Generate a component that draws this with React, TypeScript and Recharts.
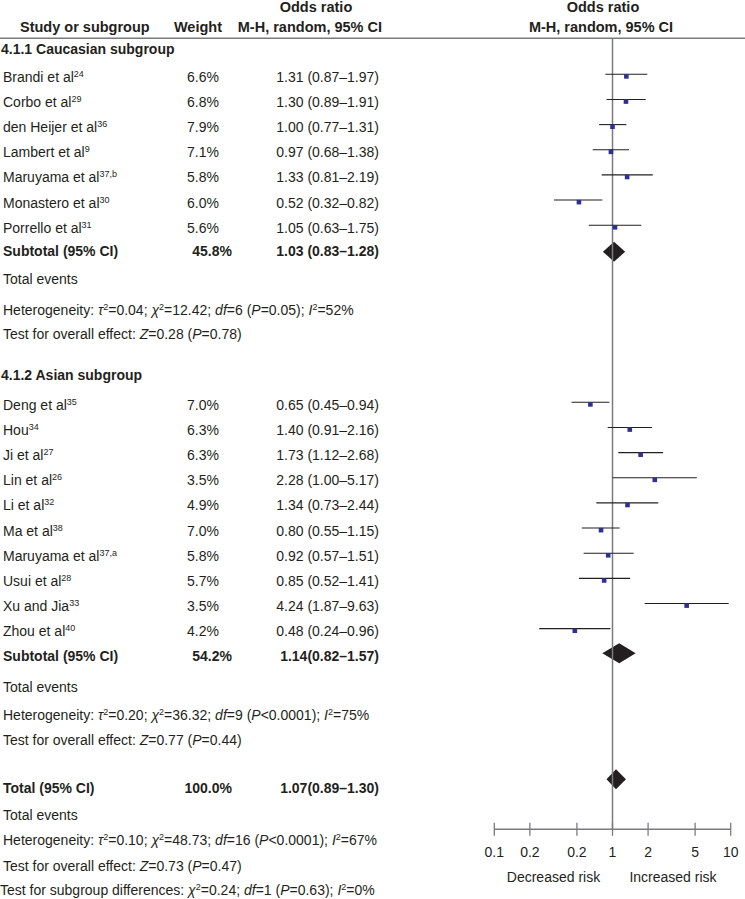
import React from 'react';
import { ComposedChart, XAxis, YAxis, Scatter, ErrorBar, Area, ReferenceLine } from 'recharts';

// --- data ---
const caucasianStudies = ['Brandi et al', 'Corbo et al', 'den Heijer et al', 'Lambert et al', 'Maruyama et al', 'Monastero et al', 'Porrello et al'];
const caucasianRefs = ['24', '29', '36', '9', '37,b', '30', '31'];
const caucasianWeights = [6.6, 6.8, 7.9, 7.1, 5.8, 6.0, 5.6];
const caucasianOR = [1.31, 1.3, 1.0, 0.97, 1.33, 0.52, 1.05];
const caucasianLow = [0.87, 0.89, 0.77, 0.68, 0.81, 0.32, 0.63];
const caucasianHigh = [1.97, 1.91, 1.31, 1.38, 2.19, 0.82, 1.75];

const asianStudies = ['Deng et al', 'Hou', 'Ji et al', 'Lin et al', 'Li et al', 'Ma et al', 'Maruyama et al', 'Usui et al', 'Xu and Jia', 'Zhou et al'];
const asianRefs = ['35', '34', '27', '26', '32', '38', '37,a', '28', '33', '40'];
const asianWeights = [7.0, 6.3, 6.3, 3.5, 4.9, 7.0, 5.8, 5.7, 3.5, 4.2];
const asianOR = [0.65, 1.4, 1.73, 2.28, 1.34, 0.8, 0.92, 0.85, 4.24, 0.48];
const asianLow = [0.45, 0.91, 1.12, 1.0, 0.73, 0.55, 0.57, 0.52, 1.87, 0.24];
const asianHigh = [0.94, 2.16, 2.68, 5.17, 2.44, 1.15, 1.51, 1.41, 9.63, 0.96];

// caucasian subtotal, asian subtotal, overall total
const pooledLabels = ['Subtotal (95% CI)', 'Subtotal (95% CI)', 'Total (95% CI)'];
const pooledWeights = [45.8, 54.2, 100.0];
const pooledOR = [1.03, 1.14, 1.07];
const pooledLow = [0.83, 0.82, 0.89];
const pooledHigh = [1.28, 1.57, 1.3];
const pooledSpaced = [true, false, false];

const hetTau2 = [0.04, 0.2, 0.1];
const hetChi2 = [12.42, 36.32, 48.73];
const hetDf = [6, 9, 16];
const hetP = ['=0.05', '<0.0001', '<0.0001'];
const hetI2 = [52, 75, 67];
const overallZ = [0.28, 0.77, 0.73];
const overallP = [0.78, 0.44, 0.47];
const subgroupDiff = { chi2: 0.24, df: 1, p: 0.63, i2: 0 };

const tickValues = [0.1, 0.2, 0.5, 1, 2, 5, 10];
const tickLabels = ['0.1', '0.2', '0.2', '1', '2', '5', '10'];

// --- layout ---
const W = 745;
const H = 899;
const PLOT_LEFT = 494.3;
const PLOT_RIGHT = 730.7;
const AXIS_Y = 829.3;
const RULE_Y = 38.3;
const ROW_STEP = 25.15;
const CAUC_FIRST = 74.3;
const ASIAN_FIRST = 402.3;
const POOLED_Y = [251.7, 653.3, 779.3];
const DIAMOND_HALF = 10;
const FONT = '"Liberation Sans", Arial, sans-serif';
const INK = '#231f20';
const GREY = '#7a7b7e';

const fmt2 = (v: number) => v.toFixed(2);
const orText = (o: number, l: number, h: number, spaced = true) =>
  `${fmt2(o)}${spaced ? ' ' : ''}(${fmt2(l)}–${fmt2(h)})`;

const studyPoints = [
  ...caucasianOR.map((o, i) => ({ x: o, y: CAUC_FIRST + i * ROW_STEP, err: [o - caucasianLow[i], caucasianHigh[i] - o] })),
  ...asianOR.map((o, i) => ({ x: o, y: ASIAN_FIRST + i * ROW_STEP, err: [o - asianLow[i], asianHigh[i] - o] })),
];

const diamondData = (k: number) => {
  const c = POOLED_Y[k];
  return [
    { x: pooledLow[k], band: [c, c] },
    { x: pooledOR[k], band: [c - DIAMOND_HALF, c + DIAMOND_HALF] },
    { x: pooledHigh[k], band: [c, c] },
  ];
};

const Square = (props: any) => {
  const { cx, cy } = props;
  if (cx == null || cy == null) return null;
  return <rect x={cx - 2.3} y={cy - 0.2} width={4.6} height={4.6} fill="#2e3192" />;
};

const ForestTick = (props: any) => {
  const { x, y, payload } = props;
  const idx = tickValues.indexOf(payload.value);
  return (
    <g>
      <line x1={x} x2={x} y1={AXIS_Y - 6.5} y2={AXIS_Y + 6.5} stroke={GREY} strokeWidth={1.3} />
      <text x={x} y={AXIS_Y + 27.5} textAnchor="middle" fontSize={14} fontFamily={FONT} fill={INK}>
        {tickLabels[idx]}
      </text>
    </g>
  );
};

type Seg = { t: string; i?: boolean; sup?: boolean };

function Rich({ x, y, segs, bold, anchor = 'start', size = 14 }: { x: number; y: number; segs: Seg[]; bold?: boolean; anchor?: string; size?: number }) {
  let up = false;
  const parts = segs.map((s, k) => {
    let dy: number | undefined;
    if (s.sup && !up) { dy = -5; up = true; }
    else if (!s.sup && up) { dy = 5; up = false; }
    return (
      <tspan key={k} dy={dy} fontStyle={s.i ? 'italic' : undefined} fontSize={s.sup ? 9 : undefined}>
        {s.t}
      </tspan>
    );
  });
  return (
    <text x={x} y={y} textAnchor={anchor as any} fontSize={size} fontFamily={FONT} fill={INK} fontWeight={bold ? 'bold' : 'normal'}>
      {parts}
    </text>
  );
}

const T = ({ x, y, children, bold, anchor = 'start', size = 14 }: any) => (
  <text x={x} y={y} textAnchor={anchor} fontSize={size} fontFamily={FONT} fill={INK} fontWeight={bold ? 'bold' : 'normal'}>
    {children}
  </text>
);

const hetSegs = (k: number): Seg[] => [
  { t: 'Heterogeneity: ' }, { t: 'τ', i: true }, { t: '2', sup: true }, { t: `=${fmt2(hetTau2[k])}; ` },
  { t: 'χ', i: true }, { t: '2', sup: true }, { t: `=${fmt2(hetChi2[k])}; ` },
  { t: 'df', i: true }, { t: `=${hetDf[k]} (` }, { t: 'P', i: true }, { t: `${hetP[k]}); ` },
  { t: 'I', i: true }, { t: '2', sup: true }, { t: `=${hetI2[k]}%` },
];

const zSegs = (k: number): Seg[] => [
  { t: 'Test for overall effect: ' }, { t: 'Z', i: true }, { t: `=${fmt2(overallZ[k])} (` },
  { t: 'P', i: true }, { t: `=${fmt2(overallP[k])})` },
];

// baselines of the statistic lines per block
const EVENTS_Y = [283.5, 692, 819.5];
const HET_Y = [315, 719.5, 845];
const TEST_Y = [338.5, 744.5, 870.5];
const POOLED_TEXT_Y = [255.5, 660.5, 793];

function TablePart() {
  const studyRows = (names: string[], refs: string[], weights: number[], ors: number[], lows: number[], highs: number[], first: number) =>
    names.map((n, i) => {
      const y = first + i * ROW_STEP + 7.5;
      return (
        <g key={n + refs[i]}>
          <Rich x={3} y={y} segs={[{ t: n }, { t: refs[i], sup: true }]} />
          <T x={187} y={y}>{weights[i].toFixed(1)}%</T>
          <T x={379} y={y} anchor="end">{orText(ors[i], lows[i], highs[i])}</T>
        </g>
      );
    });

  const pooledBlock = (k: number) => (
    <g key={'p' + k}>
      <T x={3} y={POOLED_TEXT_Y[k]} bold>{pooledLabels[k]}</T>
      <T x={232} y={POOLED_TEXT_Y[k]} bold anchor="end">{pooledWeights[k].toFixed(1)}%</T>
      <T x={379} y={POOLED_TEXT_Y[k]} bold anchor="end">{orText(pooledOR[k], pooledLow[k], pooledHigh[k], pooledSpaced[k])}</T>
      <T x={3} y={EVENTS_Y[k]}>Total events</T>
      <Rich x={3} y={HET_Y[k]} segs={hetSegs(k)} />
      <Rich x={3} y={TEST_Y[k]} segs={zSegs(k)} />
    </g>
  );

  return (
    <svg width={W} height={H} style={{ position: 'absolute', left: 0, top: 0, pointerEvents: 'none' }}>
      {/* header */}
      <T x={316} y={11.7} bold anchor="middle" size={14.5}>Odds ratio</T>
      <T x={20} y={31.5} bold size={14.5}>Study or subgroup</T>
      <T x={222} y={31.5} bold anchor="end" size={14.5}>Weight</T>
      <T x={382} y={31.5} bold anchor="end" size={14.5}>M-H, random, 95% CI</T>
      <T x={603} y={11.7} bold anchor="middle" size={14.5}>Odds ratio</T>
      <T x={601} y={31.5} bold anchor="middle" size={14.5}>M-H, random, 95% CI</T>
      <line x1={0} x2={W} y1={RULE_Y} y2={RULE_Y} stroke={GREY} strokeWidth={1.5} />

      <T x={1} y={54} bold>4.1.1 Caucasian subgroup</T>
      {studyRows(caucasianStudies, caucasianRefs, caucasianWeights, caucasianOR, caucasianLow, caucasianHigh, CAUC_FIRST)}
      {pooledBlock(0)}

      <T x={1} y={380} bold>4.1.2 Asian subgroup</T>
      {studyRows(asianStudies, asianRefs, asianWeights, asianOR, asianLow, asianHigh, ASIAN_FIRST)}
      {pooledBlock(1)}

      {pooledBlock(2)}
      <Rich
        x={0}
        y={895}
        segs={[
          { t: 'Test for subgroup differences: ' }, { t: 'χ', i: true }, { t: '2', sup: true },
          { t: `=${fmt2(subgroupDiff.chi2)}; ` }, { t: 'df', i: true }, { t: `=${subgroupDiff.df} (` },
          { t: 'P', i: true }, { t: `=${fmt2(subgroupDiff.p)}); ` }, { t: 'I', i: true }, { t: '2', sup: true },
          { t: `=${subgroupDiff.i2}%` },
        ]}
      />

      <T x={553.5} y={881.7} anchor="middle">Decreased risk</T>
      <T x={673} y={881.7} anchor="middle">Increased risk</T>
    </svg>
  );
}

export default function App() {
  return (
    <div style={{ position: 'absolute', left: 0, top: 0, width: W, height: H, background: '#fff' }}>
      <div style={{ position: 'absolute', left: 0, top: 0 }}>
        <ComposedChart
          width={W}
          height={H}
          margin={{ top: 0, right: W - PLOT_RIGHT, bottom: H - AXIS_Y - 30, left: PLOT_LEFT }}
        >
          <XAxis
            type="number"
            dataKey="x"
            scale="log"
            domain={[0.1, 10]}
            ticks={tickValues}
            interval={0}
            allowDataOverflow
            height={30}
            tickSize={0}
            tickMargin={0}
            tickLine={false}
            axisLine={{ stroke: GREY, strokeWidth: 1.5 }}
            tick={<ForestTick />}
          />
          <YAxis type="number" dataKey="y" domain={[0, AXIS_Y]} reversed hide allowDataOverflow />
          <ReferenceLine segment={[{ x: 1, y: RULE_Y }, { x: 1, y: AXIS_Y }]} stroke={GREY} strokeWidth={1.5} />
          {[0, 1, 2].map((k) => (
            <Area
              key={'d' + k}
              data={diamondData(k)}
              dataKey="band"
              type="linear"
              stroke="none"
              fill={INK}
              fillOpacity={1}
              dot={false}
              activeDot={false}
              isAnimationActive={false}
            />
          ))}
          <Scatter data={studyPoints} shape={<Square />} isAnimationActive={false}>
            <ErrorBar dataKey="err" direction="x" width={0} stroke={INK} strokeWidth={1.1} />
          </Scatter>
        </ComposedChart>
      </div>
      <TablePart />
    </div>
  );
}
